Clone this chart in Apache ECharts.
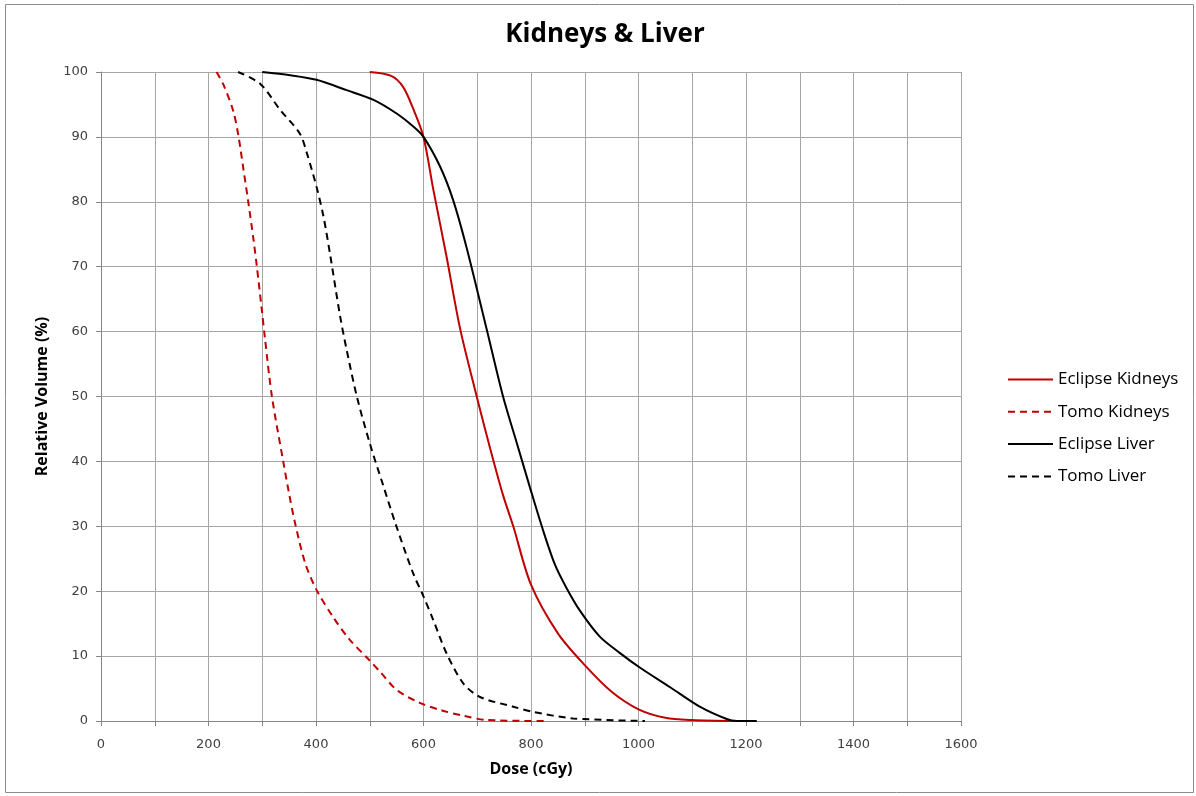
<!DOCTYPE html>
<html>
<head>
<meta charset="utf-8">
<script src="https://cdn.jsdelivr.net/npm/echarts@6/dist/echarts.min.js"></script>
<style>
html,body{margin:0;padding:0;background:#fff;}
#chart{width:1196px;height:796px;}
</style>
</head>
<body>
<div id="chart"></div>
<script>
// Data
const seriesNames = ['Eclipse Kidneys', 'Tomo Kidneys', 'Eclipse Liver', 'Tomo Liver'];

const eclipseKidneysDose = [500, 540, 562, 581, 600, 618, 643, 668, 699, 724, 748, 767, 800, 850, 900, 950, 1000, 1050, 1100, 1180];
const eclipseKidneysVol  = [100, 99.4, 97.7, 94.3, 90, 82, 71.5, 60.5, 50, 42, 34.8, 30, 21, 13.5, 8.6, 4.5, 1.8, 0.5, 0.15, 0];

const tomoKidneysDose = [215, 228, 246, 256, 265, 274, 284, 290, 299, 305, 318, 339, 350, 361, 380, 401, 432, 463, 499, 519, 550, 593, 631, 674, 718, 830];
const tomoKidneysVol  = [100, 98, 94, 90, 85, 80, 74, 70, 63.5, 59, 50, 40, 35, 30.5, 24.3, 20.2, 16, 12.5, 9.4, 7.6, 4.8, 2.8, 1.7, 0.8, 0.15, 0];

const eclipseLiverDose = [300, 352, 401, 457, 507, 550, 581, 600, 631, 655, 680, 718, 748, 773, 798, 822, 845, 866, 891, 928, 965, 1003, 1059, 1114, 1164, 1183, 1220];
const eclipseLiverVol  = [100, 99.5, 98.8, 97.2, 95.7, 93.6, 91.6, 90, 85.4, 80.3, 73, 60.2, 50, 43, 36, 29.5, 24, 20.5, 17, 13, 10.5, 8.2, 5.2, 2.2, 0.3, 0, 0];

const tomoLiverDose = [255, 296, 333, 370, 383, 401, 414, 426, 445, 457, 476, 500, 525, 550, 581, 600, 618, 643, 674, 705, 767, 804, 878, 1012];
const tomoLiverVol  = [100, 98.2, 94.2, 90.5, 87.5, 82.3, 77.7, 72, 62.3, 57.2, 50, 42.8, 36.3, 29.9, 22.7, 19.2, 15.6, 10.4, 5.8, 3.7, 2.2, 1.4, 0.4, 0];

const xTicks = { min: 0, max: 1600, step: 100, labelStep: 200 };
const yTicks = { min: 0, max: 100, step: 10 };

function pairs(xs, ys) { return xs.map((x, i) => [x, ys[i]]); }

const chart = echarts.init(document.getElementById('chart'), null, { renderer: 'canvas' });

const gridColor = '#a6a6a6';
const axisColor = '#868686';
const RED = '#c00000';
const BLACK = '#000000';

function lineSeries(name, data, color, dashed) {
  return {
    name: name,
    type: 'line',
    data: data,
    showSymbol: false,
    symbol: 'none',
    smooth: 0.3,
    lineStyle: { color: color, width: 2, type: dashed ? [7, 5] : 'solid' },
    itemStyle: { color: color },
    emphasis: { disabled: true },
    z: 3
  };
}

chart.setOption({
  animation: false,
  backgroundColor: '#ffffff',
  title: {
    text: 'Kidneys & Liver',
    left: 600,
    top: 17,
    textAlign: 'center',
    textStyle: { fontFamily: 'Open Sans', fontSize: 26, fontWeight: 'bold', color: '#000' }
  },
  grid: { left: 101, top: 72, width: 860, height: 649, containLabel: false },
  legend: {
    orient: 'vertical',
    left: 1002,
    top: 366,
    itemWidth: 45,
    itemHeight: 14,
    itemGap: 15.3,
    itemStyle: { opacity: 0 },
    textStyle: { fontFamily: 'Open Sans', fontSize: 17, lineHeight: 14, color: '#000' },
    data: seriesNames
  },
  xAxis: {
    type: 'value',
    min: xTicks.min,
    max: xTicks.max,
    interval: xTicks.step,
    name: 'Dose (cGy)',
    nameLocation: 'middle',
    nameGap: 40,
    nameTextStyle: { fontFamily: 'Open Sans', fontSize: 16, fontWeight: 'bold', color: '#000' },
    axisLine: { show: true, lineStyle: { color: axisColor, width: 1 } },
    axisTick: { show: true, length: 5, lineStyle: { color: axisColor } },
    axisLabel: {
      fontFamily: 'DejaVu Sans', fontSize: 13, color: '#404040', margin: 17,
      formatter: v => (v % xTicks.labelStep === 0 ? String(v) : '')
    },
    splitLine: { show: true, lineStyle: { color: gridColor, width: 1 } }
  },
  yAxis: {
    type: 'value',
    min: yTicks.min,
    max: yTicks.max,
    interval: yTicks.step,
    name: 'Relative Volume (%)',
    nameLocation: 'middle',
    nameGap: 51,
    nameRotate: 90,
    nameTextStyle: { fontFamily: 'Open Sans', fontSize: 16, fontWeight: 'bold', color: '#000' },
    axisLine: { show: true, lineStyle: { color: axisColor, width: 1 } },
    axisTick: { show: true, length: 5, lineStyle: { color: axisColor } },
    axisLabel: { fontFamily: 'DejaVu Sans', fontSize: 13, color: '#404040', margin: 13 },
    splitLine: { show: true, lineStyle: { color: gridColor, width: 1 } }
  },
  graphic: [{
    type: 'rect',
    shape: { x: 5.5, y: 4.5, width: 1188, height: 788 },
    style: { fill: null, stroke: '#8c8c8c', lineWidth: 1 },
    silent: true,
    z: -1
  }],
  series: [
    lineSeries(seriesNames[0], pairs(eclipseKidneysDose, eclipseKidneysVol), RED, false),
    lineSeries(seriesNames[1], pairs(tomoKidneysDose, tomoKidneysVol), RED, true),
    lineSeries(seriesNames[2], pairs(eclipseLiverDose, eclipseLiverVol), BLACK, false),
    lineSeries(seriesNames[3], pairs(tomoLiverDose, tomoLiverVol), BLACK, true)
  ]
});
</script>
</body>
</html>
